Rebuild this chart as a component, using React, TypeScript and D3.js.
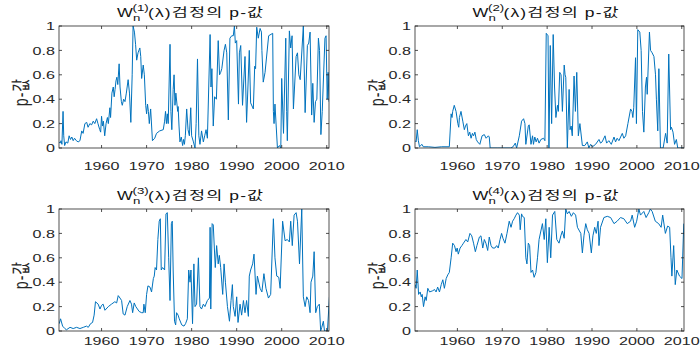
import * as d3 from 'd3';

type Pt = [number, number];

const X_TICKS = [1960, 1970, 1980, 1990, 2000, 2010];
const Y_TICKS = [0, 0.2, 0.4, 0.6, 0.8, 1];
const X_DOMAIN: [number, number] = [1950.55, 2010.5];
const ORDERS = ['(1)', '(2)', '(3)', '(4)'];

// p-values of the W_n^(k)(λ) tests, [year, p]
const W1: Pt[] = [
  [1950.6, 0.05], [1950.8, 0.04], [1951.0, 0.06], [1951.2, 0.03], [1951.45, 0.3], [1951.6, 0.1], [1951.8, 0.02],
  [1952.1, 0.05], [1952.5, 0.04], [1952.8, 0.1], [1953.1, 0.07], [1953.4, 0.09], [1953.7, 0.06], [1954.0, 0.08],
  [1954.4, 0.06], [1954.8, 0.05], [1955.2, 0.06], [1955.6, 0.14], [1955.9, 0.12], [1956.3, 0.2], [1956.7, 0.21],
  [1957.0, 0.17], [1957.4, 0.2], [1957.8, 0.19], [1958.15, 0.22], [1958.5, 0.2], [1958.9, 0.24], [1959.2, 0.2],
  [1959.6, 0.15], [1959.8, 0.13], [1960.0, 0.26], [1960.2, 0.18], [1960.4, 0.22], [1960.7, 0.1], [1961.0, 0.2],
  [1961.3, 0.25], [1961.5, 0.2], [1961.85, 0.33], [1962.0, 0.25], [1962.3, 0.45], [1962.6, 0.5], [1962.8, 0.42],
  [1963.0, 0.48], [1963.2, 0.55], [1963.4, 0.58], [1963.6, 0.52], [1963.9, 0.69], [1964.1, 0.5], [1964.4, 0.38],
  [1964.6, 0.35], [1964.9, 0.4], [1965.2, 0.38], [1965.5, 0.45], [1965.9, 0.56], [1966.2, 0.45], [1966.5, 0.21],
  [1966.8, 0.6], [1967.0, 1.0], [1967.3, 0.95], [1967.55, 0.85], [1967.8, 0.72], [1968.1, 0.78], [1968.5, 0.82],
  [1968.7, 0.75], [1968.9, 0.57], [1969.25, 0.68], [1969.5, 0.6], [1969.8, 0.35], [1970.0, 0.28], [1970.2, 0.36],
  [1970.4, 0.3], [1970.6, 0.2], [1970.9, 0.32], [1971.3, 0.06], [1971.8, 0.08], [1972.2, 0.12], [1972.9, 0.14],
  [1973.7, 0.15], [1974.0, 0.22], [1974.2, 0.3], [1974.4, 0.2], [1974.6, 0.28], [1974.8, 0.2], [1975.2, 0.85],
  [1975.4, 0.3], [1975.6, 0.15], [1975.9, 0.48], [1976.1, 0.6], [1976.3, 0.35], [1976.5, 0.45], [1976.9, 0.3],
  [1977.0, 0.34], [1977.2, 0.18], [1977.4, 0.05], [1977.7, 0.09], [1978.0, 0.02], [1978.2, 0.07], [1978.4, 0.03],
  [1978.6, 0.1], [1978.9, 0.32], [1979.2, 0.15], [1979.5, 0.1], [1979.8, 0.33], [1980.0, 0.1], [1980.4, 0.05],
  [1980.75, 0.0], [1981.0, 0.2], [1981.3, 0.73], [1981.6, 0.1], [1981.85, 0.03], [1982.2, 0.14], [1982.6, 0.05],
  [1982.9, 0.1], [1983.2, 0.15], [1983.5, 0.08], [1984.1, 0.93], [1984.3, 0.5], [1984.5, 0.65], [1984.8, 0.18],
  [1985.1, 0.42], [1985.5, 0.4], [1985.9, 0.88], [1986.2, 0.6], [1986.45, 0.62], [1986.7, 0.65], [1987.2, 0.8],
  [1987.5, 0.85], [1987.8, 0.78], [1988.15, 0.23], [1988.5, 0.9], [1988.9, 0.92], [1989.25, 0.92], [1989.5, 1.0],
  [1989.7, 0.86], [1990.0, 0.88], [1990.4, 0.36], [1990.6, 0.78], [1990.9, 0.84], [1991.3, 0.35], [1991.85, 0.75],
  [1992.2, 0.21], [1992.5, 0.5], [1992.8, 0.8], [1993.1, 0.37], [1993.7, 0.32], [1994.0, 0.67], [1994.2, 0.65],
  [1994.45, 0.99], [1994.8, 0.9], [1995.2, 0.98], [1995.5, 0.95], [1995.6, 0.8], [1995.9, 0.54], [1996.3, 0.62],
  [1997.1, 0.92], [1998.0, 0.94], [1998.15, 0.3], [1998.3, 0.2], [1998.5, 0.36], [1999.05, 0.0], [1999.5, 0.02],
  [1999.8, 0.0], [2000.0, 0.57], [2000.4, 0.12], [2000.9, 0.9], [2001.1, 0.3], [2001.25, 0.06], [2001.7, 0.96],
  [2002.0, 0.82], [2002.3, 0.92], [2002.6, 0.32], [2003.2, 0.75], [2003.5, 0.78], [2003.8, 0.6], [2004.1, 0.56],
  [2004.8, 1.0], [2005.2, 0.29], [2005.7, 0.84], [2006.0, 0.86], [2006.3, 0.95], [2006.65, 0.27], [2006.9, 0.53],
  [2007.2, 0.21], [2007.5, 0.38], [2007.8, 0.4], [2008.15, 0.9], [2008.4, 0.8], [2008.7, 0.11], [2009.0, 0.3],
  [2009.6, 0.9], [2009.85, 0.92], [2010.1, 0.4], [2010.3, 0.62], [2010.5, 0.38],
];

const W2: Pt[] = [
  [1950.6, 0.06], [1950.8, 0.05], [1951.05, 0.15], [1951.3, 0.06], [1951.55, 0.01], [1952.1, 0.03], [1952.4, 0.01],
  [1953.5, 0.01], [1955.0, 0.005], [1956.5, 0.01], [1958.2, 0.01], [1958.6, 0.28], [1958.8, 0.25], [1958.95, 0.3],
  [1959.3, 0.35], [1959.7, 0.3], [1960.1, 0.2], [1960.3, 0.17], [1960.45, 0.25], [1960.8, 0.3], [1961.2, 0.22],
  [1961.55, 0.15], [1961.8, 0.18], [1962.1, 0.2], [1962.45, 0.1], [1962.75, 0.13], [1963.05, 0.08], [1963.35, 0.12],
  [1963.6, 0.1], [1963.9, 0.13], [1964.2, 0.07], [1964.5, 0.05], [1965.0, 0.03], [1965.5, 0.1], [1966.0, 0.11],
  [1966.4, 0.08], [1966.9, 0.1], [1967.1, 0.09], [1967.3, 0.0], [1969.0, 0.0], [1971.9, 0.0], [1972.4, 0.01],
  [1972.9, 0.04], [1973.2, 0.0], [1973.8, 0.1], [1974.3, 0.22], [1974.75, 0.24], [1975.05, 0.2], [1975.25, 0.03],
  [1975.8, 0.18], [1976.0, 0.19], [1976.4, 0.03], [1976.75, 0.1], [1976.95, 0.03], [1977.25, 0.09], [1977.55, 0.05],
  [1977.85, 0.08], [1978.2, 0.04], [1978.6, 0.07], [1979.2, 0.08], [1979.5, 0.06], [1979.8, 0.94], [1980.2, 0.92],
  [1980.4, 0.0], [1980.7, 0.84], [1981.0, 0.2], [1981.35, 0.93], [1981.65, 0.5], [1981.95, 0.25], [1982.3, 0.35],
  [1982.5, 0.3], [1982.8, 0.62], [1983.1, 0.6], [1983.4, 0.3], [1983.8, 0.68], [1984.0, 0.6], [1984.15, 0.58],
  [1984.5, 0.0], [1984.9, 0.48], [1985.1, 0.15], [1985.35, 0.18], [1985.6, 0.1], [1986.0, 0.59], [1986.3, 0.3],
  [1986.6, 0.62], [1986.95, 0.1], [1987.3, 0.2], [1987.85, 0.02], [1988.4, 0.02], [1988.95, 0.05], [1989.3, 0.0],
  [1989.7, 0.03], [1990.1, 0.01], [1990.8, 0.03], [1991.55, 0.07], [1991.9, 0.04], [1992.25, 0.05], [1992.9, 0.1],
  [1993.25, 0.04], [1993.75, 0.06], [1994.3, 0.03], [1994.9, 0.09], [1995.25, 0.05], [1995.6, 0.08], [1996.0, 0.06],
  [1996.75, 0.12], [1997.1, 0.08], [1997.5, 0.1], [1998.0, 0.2], [1998.6, 0.32], [1998.9, 0.3], [1999.1, 0.25],
  [1999.3, 0.33], [1999.7, 0.74], [1999.9, 0.2], [2000.2, 0.97], [2000.65, 0.95], [2000.95, 0.8], [2001.25, 0.3],
  [2001.55, 0.13], [2001.9, 0.5], [2002.15, 0.58], [2002.3, 0.44], [2002.8, 0.95], [2003.05, 0.8], [2003.4, 0.78],
  [2003.8, 0.75], [2004.15, 0.6], [2004.35, 0.4], [2004.65, 0.14], [2004.9, 0.65], [2005.25, 0.0], [2005.85, 0.0],
  [2006.4, 0.12], [2006.75, 0.04], [2007.1, 0.77], [2007.5, 0.15], [2007.7, 0.17], [2008.05, 0.13], [2008.4, 0.03],
  [2008.8, 0.07], [2009.1, 0.0], [2010.45, 0.0],
];

const W3: Pt[] = [
  [1950.6, 0.06], [1950.9, 0.1], [1951.35, 0.04], [1951.85, 0.02], [1952.2, 0.01], [1953.0, 0.03], [1953.7, 0.02],
  [1954.45, 0.03], [1955.2, 0.02], [1955.95, 0.03], [1956.65, 0.04], [1957.05, 0.03], [1957.55, 0.06], [1958.0, 0.07],
  [1958.35, 0.13], [1958.65, 0.24], [1959.25, 0.22], [1959.65, 0.18], [1960.0, 0.21], [1960.35, 0.22], [1960.75, 0.17],
  [1961.5, 0.2], [1962.2, 0.22], [1962.95, 0.24], [1963.35, 0.23], [1963.7, 0.29], [1964.1, 0.27], [1964.45, 0.25],
  [1964.8, 0.14], [1965.2, 0.13], [1965.7, 0.2], [1966.3, 0.25], [1966.65, 0.22], [1966.9, 0.15], [1967.25, 0.23],
  [1967.6, 0.2], [1968.35, 0.16], [1968.9, 0.15], [1969.25, 0.15], [1969.4, 0.22], [1969.7, 0.15], [1970.0, 0.3],
  [1970.3, 0.37], [1970.75, 0.36], [1971.1, 0.32], [1971.5, 0.43], [1971.7, 0.45], [1971.9, 0.52], [1972.2, 0.5],
  [1972.5, 0.75], [1972.8, 0.9], [1973.05, 0.92], [1973.25, 0.5], [1973.55, 0.52], [1974.0, 0.5], [1974.3, 0.96],
  [1974.6, 0.97], [1974.9, 0.6], [1975.2, 0.25], [1975.5, 0.88], [1975.7, 0.9], [1975.9, 0.5], [1976.2, 0.08],
  [1976.45, 0.05], [1976.65, 0.15], [1977.0, 0.13], [1977.25, 0.1], [1977.8, 0.05], [1978.3, 0.04], [1978.65, 0.06],
  [1979.05, 0.1], [1979.35, 0.5], [1979.65, 0.4], [1979.85, 0.5], [1980.2, 0.06], [1980.5, 0.55], [1980.75, 0.2],
  [1981.1, 0.22], [1981.5, 0.6], [1981.85, 0.2], [1982.2, 0.18], [1982.6, 0.22], [1982.95, 0.2], [1983.5, 0.25],
  [1983.95, 0.27], [1984.1, 0.85], [1984.25, 0.18], [1984.55, 0.88], [1984.8, 0.87], [1985.25, 0.52], [1985.55, 0.7],
  [1985.9, 0.55], [1986.15, 0.62], [1986.45, 0.52], [1986.9, 0.3], [1987.2, 0.55], [1987.5, 0.4], [1987.95, 0.2],
  [1988.4, 0.08], [1988.75, 0.25], [1989.05, 0.38], [1989.25, 0.2], [1989.65, 0.12], [1990.0, 0.28], [1990.3, 0.07],
  [1990.75, 0.22], [1991.1, 0.13], [1991.5, 0.25], [1991.85, 0.15], [1992.2, 0.25], [1992.6, 0.12], [1992.8, 0.45],
  [1993.1, 0.5], [1993.55, 0.55], [1993.85, 0.63], [1994.3, 0.3], [1994.6, 0.45], [1995.2, 0.35], [1995.6, 0.32],
  [1996.05, 0.47], [1996.5, 0.35], [1997.05, 0.27], [1997.55, 0.3], [1998.15, 0.92], [1998.5, 0.6], [1998.9, 0.45],
  [1999.35, 0.44], [1999.65, 0.35], [2000.2, 0.9], [2000.75, 0.74], [2001.25, 0.75], [2001.7, 0.73], [2002.0, 0.9],
  [2002.35, 0.7], [2002.75, 0.95], [2003.2, 0.97], [2003.5, 0.9], [2003.95, 0.55], [2004.45, 1.0], [2004.8, 0.28],
  [2005.2, 0.2], [2005.55, 0.28], [2005.95, 0.25], [2006.3, 0.15], [2006.5, 0.4], [2006.9, 0.45], [2007.2, 0.65],
  [2007.55, 0.15], [2007.9, 0.2], [2008.35, 0.22], [2008.65, 0.0], [2008.9, 0.03], [2009.25, 0.08], [2009.5, 0.0],
  [2010.15, 0.0], [2010.6, 0.28],
];

const W4: Pt[] = [
  [1950.6, 0.38], [1950.8, 0.35], [1951.05, 0.5], [1951.35, 0.3], [1951.7, 0.32], [1951.95, 0.28], [1952.15, 0.3],
  [1952.45, 0.2], [1952.8, 0.28], [1953.05, 0.25], [1953.4, 0.35], [1953.8, 0.32], [1954.5, 0.33], [1954.9, 0.34],
  [1955.25, 0.32], [1955.6, 0.36], [1956.0, 0.32], [1956.4, 0.38], [1956.75, 0.42], [1957.1, 0.35], [1957.5, 0.43],
  [1957.85, 0.46], [1958.2, 0.48], [1958.6, 0.6], [1958.95, 0.72], [1959.35, 0.7], [1959.7, 0.65], [1959.95, 0.68],
  [1960.2, 0.63], [1960.6, 0.68], [1961.0, 0.7], [1961.35, 0.72], [1961.9, 0.75], [1962.3, 0.73], [1962.8, 0.8],
  [1963.2, 0.78], [1963.6, 0.72], [1964.0, 0.65], [1964.35, 0.7], [1964.9, 0.77], [1965.25, 0.78], [1965.65, 0.68],
  [1966.0, 0.75], [1966.35, 0.72], [1966.75, 0.66], [1967.1, 0.77], [1967.5, 0.7], [1967.85, 0.68], [1968.35, 0.68],
  [1968.75, 0.7], [1969.1, 0.68], [1969.5, 0.75], [1969.85, 0.8], [1970.15, 0.76], [1970.6, 0.72], [1971.05, 0.8],
  [1971.55, 0.9], [1971.95, 0.85], [1972.3, 0.9], [1972.65, 0.92], [1973.05, 0.95], [1973.4, 0.97], [1973.8, 0.95],
  [1974.0, 0.83], [1974.3, 0.96], [1974.5, 0.94], [1974.9, 0.93], [1975.25, 0.6], [1975.5, 0.55], [1975.8, 0.72],
  [1976.1, 0.7], [1976.4, 0.48], [1976.75, 0.5], [1977.1, 0.44], [1977.5, 0.48], [1977.85, 0.6], [1978.2, 0.75],
  [1978.95, 0.88], [1979.35, 0.75], [1979.7, 0.92], [1980.05, 0.56], [1980.45, 0.85], [1980.8, 0.6], [1981.2, 0.95],
  [1981.7, 0.98], [1982.15, 0.75], [1982.65, 0.72], [1983.05, 0.78], [1983.4, 0.82], [1983.8, 0.76], [1984.15, 1.0],
  [1984.5, 0.96], [1984.9, 0.98], [1985.4, 0.94], [1985.85, 0.97], [1986.35, 0.95], [1986.75, 0.85], [1987.5, 0.8],
  [1987.85, 0.64], [1988.2, 0.78], [1988.6, 0.88], [1988.95, 0.83], [1989.35, 0.8], [1989.85, 0.64], [1990.2, 0.78],
  [1990.6, 0.85], [1990.95, 0.8], [1991.35, 0.9], [1991.55, 0.7], [1991.9, 0.85], [1992.65, 0.93], [1993.4, 0.94],
  [1994.15, 0.93], [1994.9, 0.88], [1995.6, 0.9], [1996.35, 0.93], [1997.1, 0.92], [1997.85, 0.88], [1998.6, 0.9],
  [1998.95, 0.95], [1999.5, 0.85], [1999.95, 0.9], [2000.45, 1.0], [2000.8, 0.95], [2001.55, 0.98], [2002.05, 0.93],
  [2002.65, 0.97], [2003.0, 1.0], [2003.4, 0.98], [2004.1, 0.9], [2004.85, 0.88], [2005.4, 0.85], [2005.75, 0.95],
  [2006.35, 0.8], [2006.85, 0.86], [2007.3, 0.85], [2007.6, 0.6], [2007.8, 0.45], [2008.2, 0.7], [2008.55, 0.38],
  [2008.9, 0.5], [2009.5, 0.45], [2010.05, 0.43], [2010.45, 0.88],
];

const SERIES = [W1, W2, W3, W4];

const FONT = '"Liberation Sans", Arial, "Noto Sans CJK KR", sans-serif';
const SX = 1.4; // the figure is stretched sideways
const BLUE = '#0072BD';
const INK = '#262626';

const BOXES = [
  { x0: 59, x1: 329, y0: 26, y1: 148, labelY: 170 },
  { x0: 415, x1: 684, y0: 26, y1: 148, labelY: 170 },
  { x0: 59, x1: 329, y0: 209, y1: 331, labelY: 345 },
  { x0: 415, x1: 684, y0: 209, y1: 331, labelY: 345 },
];

type Box = (typeof BOXES)[number];

function Panel({ box, data, order, idx }: { box: Box; data: Pt[]; order: string; idx: number }) {
  const x = d3.scaleLinear().domain(X_DOMAIN).range([box.x0, box.x1]);
  const y = d3.scaleLinear().domain([0, 1]).range([box.y1, box.y0]);
  const line = d3.line<Pt>().x(d => x(d[0])).y(d => y(d[1]));
  const cx = (box.x0 + box.x1) / 2;
  const cy = (box.y0 + box.y1) / 2;
  const ty = box.y0 - 9;
  const tk = 3;
  const clip = `clip-${idx}`;

  return (
    <g>
      <defs>
        <clipPath id={clip}>
          <rect x={box.x0} y={box.y0} width={box.x1 - box.x0} height={box.y1 - box.y0} />
        </clipPath>
      </defs>
      <path d={line(data) ?? ''} fill="none" stroke={BLUE} strokeWidth={1} strokeLinejoin="round" clipPath={`url(#${clip})`} />

      {/* box + ticks */}
      <rect x={box.x0} y={box.y0} width={box.x1 - box.x0} height={box.y1 - box.y0} fill="none" stroke={INK} strokeWidth={0.8} />
      {X_TICKS.map(t => (
        <g key={t}>
          <line x1={x(t)} x2={x(t)} y1={box.y1} y2={box.y1 - tk} stroke={INK} strokeWidth={0.8} />
          <line x1={x(t)} x2={x(t)} y1={box.y0} y2={box.y0 + tk} stroke={INK} strokeWidth={0.8} />
          <text transform={`translate(${x(t)},${box.labelY}) scale(${SX},1)`} textAnchor="middle" fontSize={11.5} fontFamily={FONT} fill={INK}>
            {t}
          </text>
        </g>
      ))}
      {Y_TICKS.map(t => (
        <g key={t}>
          <line x1={box.x0} x2={box.x0 + tk} y1={y(t)} y2={y(t)} stroke={INK} strokeWidth={0.8} />
          <line x1={box.x1} x2={box.x1 - tk} y1={y(t)} y2={y(t)} stroke={INK} strokeWidth={0.8} />
          <text transform={`translate(${box.x0 - 4},${y(t)}) scale(${SX},1)`} textAnchor="end" dominantBaseline="central" fontSize={11.5} fontFamily={FONT} fill={INK}>
            {d3.format('~g')(t)}
          </text>
        </g>
      ))}

      {/* y label */}
      <text transform={`translate(${box.x0 - 37},${cy + 5}) scale(${SX},1) rotate(-90)`} textAnchor="middle" dominantBaseline="central" fontSize={14} letterSpacing={1} fontFamily={FONT} fill={INK}>
        p-값
      </text>

      {/* title: W_n^(k)(λ)검정의 p-값 */}
      <g fontFamily={FONT} fill="#111">
        <text transform={`translate(${cx - 77},${ty}) scale(${SX},1)`} fontSize={12}>W</text>
        <text transform={`translate(${cx - 61.5},${ty - 6}) scale(${SX},1)`} fontSize={9.5}>{order}</text>
        <text transform={`translate(${cx - 61},${ty + 4}) scale(${SX},1)`} fontSize={9.5}>n</text>
        <text transform={`translate(${cx - 46},${ty}) scale(${SX},1)`} fontSize={12.5} letterSpacing={0.8}>(λ)검정의 p-값</text>
      </g>
    </g>
  );
}

export default function App() {
  return (
    <svg width={700} height={351} style={{ position: 'absolute', left: 0, top: 0, background: '#fff' }}>
      <rect width={700} height={351} fill="#fff" />
      {BOXES.map((b, i) => (
        <Panel key={i} box={b} data={SERIES[i]} order={ORDERS[i]} idx={i} />
      ))}
    </svg>
  );
}
